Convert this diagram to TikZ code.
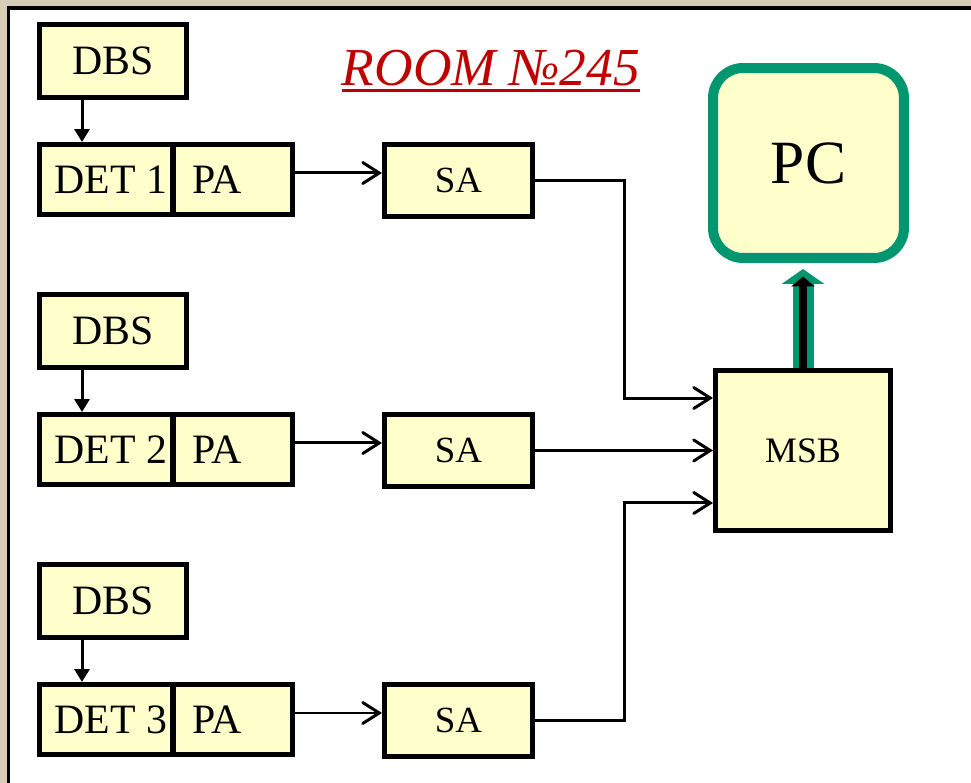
\documentclass[tikz,border=0pt]{standalone}
\usepackage{fontspec}
\setmainfont{Liberation Serif}
\usetikzlibrary{arrows.meta,calc}
\definecolor{boxfill}{RGB}{255,255,204}
\definecolor{pcgreen}{RGB}{0,150,112}
\definecolor{ttlred}{RGB}{192,0,0}
\definecolor{parch}{RGB}{214,204,184}
\tikzset{
  blk/.style={draw,line width=0.1cm,fill=boxfill,inner sep=0pt,font=\fontsize{23.8}{27}\selectfont},
  dbsbox/.style={blk,minimum width=2.94cm,minimum height=1.46cm},
  detbox/.style={blk,minimum height=1.4cm,inner xsep=0.12cm,text width=2.43cm,align=flush right},
  pabox/.style={blk,minimum height=1.4cm,inner xsep=0.38cm,text width=1.63cm,align=flush left},
  sabox/.style={blk,minimum width=2.96cm,minimum height=1.44cm,font=\fontsize{21}{24}\selectfont},
  feed/.style={line width=0.06cm,-{Triangle[length=0.26cm,width=0.3cm]}},
  wire/.style={line width=0.06cm,-{Straight Barb[length=0.33cm,width=0.42cm,line cap=round]}},
}
\begin{document}
\begin{tikzpicture}[x=0.02cm,y=-0.02cm]
\useasboundingbox (0,0) rectangle (971,783);
\clip (0,0) rectangle (971,783);
\fill[parch] (0,0) rectangle (971,783);
\draw[line width=0.08cm,fill=white] (8.5,8.5) rectangle (1000,820);

% title
\node[inner sep=0pt,anchor=base,text=ttlred,font=\fontsize{30.4}{34}\selectfont\itshape] (title) at (491,86) {ROOM №245};
\draw[ttlred,line width=0.06cm] ([yshift=-0.1cm]title.base west) -- ([yshift=-0.1cm]title.base east);

% row 1
\node[dbsbox] (dbs1) at (113,61) {DBS};
\node[detbox] (det1) at (106.25,179.5) {DET 1};
\node[pabox] (pa1) at (232.75,179.5) {PA};
\node[sabox] (sa1) at (458.5,180.5) {SA};
% row 2
\node[dbsbox] (dbs2) at (113,331) {DBS};
\node[detbox] (det2) at (106.25,449.5) {DET 2};
\node[pabox] (pa2) at (232.75,449.5) {PA};
\node[sabox] (sa2) at (458.5,450.5) {SA};
% row 3
\node[dbsbox] (dbs3) at (113,601) {DBS};
\node[detbox] (det3) at (106.25,719.5) {DET 3};
\node[pabox] (pa3) at (232.75,719.5) {PA};
\node[sabox] (sa3) at (458.5,720.5) {SA};

\node[blk,minimum width=3.5cm,minimum height=3.2cm,font=\fontsize{20.4}{24}\selectfont] (msb) at (803,450.5) {MSB};
\node[draw=pcgreen,line width=0.2cm,fill=boxfill,rounded corners=0.6cm,minimum width=3.82cm,minimum height=3.8cm,inner sep=0pt,font=\fontsize{35}{40}\selectfont] (pc) at (808.5,163) {PC};

\draw[feed] ([xshift=-0.62cm]dbs1.south) -- ([xshift=-0.62cm]dbs1.south |- det1.north);
\draw[feed] ([xshift=-0.62cm]dbs2.south) -- ([xshift=-0.62cm]dbs2.south |- det2.north);
\draw[feed] ([xshift=-0.62cm]dbs3.south) -- ([xshift=-0.62cm]dbs3.south |- det3.north);

\draw[wire] ([yshift=0.13cm]pa1.east) -- ([yshift=0.13cm]pa1.east -| sa1.west);
\draw[wire] ([yshift=0.13cm]pa2.east) -- ([yshift=0.13cm]pa2.east -| sa2.west);
\draw[wire] ([yshift=0.13cm]pa3.east) -- ([yshift=0.13cm]pa3.east -| sa3.west);

\draw[wire] (sa1.east) -| ($(sa1.east)!.5!(msb.west)$) |- ([yshift=1.05cm]msb.west);
\draw[wire] (sa2.east) -- (sa2.east -| msb.west);
\draw[wire] (sa3.east) -| ($(sa3.east)!.5!(msb.west)$) |- ([yshift=-1.05cm]msb.west);

% fat link to the PC
\draw[pcgreen,line width=0.42cm,-{Triangle[length=0.3cm,width=0.84cm]}] (msb.north) -- ([yshift=-0.12cm]msb.north |- pc.south);
\draw[black,line width=0.16cm,-{Triangle[length=0.2cm,width=0.46cm]}] (msb.north) -- ([yshift=-0.27cm]msb.north |- pc.south);
\end{tikzpicture}
\end{document}
